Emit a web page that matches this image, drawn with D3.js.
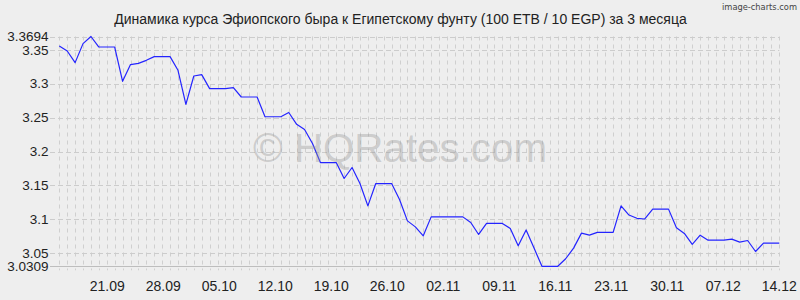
<!DOCTYPE html>
<html><head><meta charset="utf-8">
<script src="https://cdn.jsdelivr.net/npm/d3@7"></script>
<style>html,body{margin:0;padding:0;background:#eeeeee;} svg{display:block;}</style>
</head><body>
<svg id="c" width="800" height="300"></svg>
<script>
const titleText = "Динамика курса Эфиопского быра к Египетскому фунту (100 ETB / 10 EGP) за 3 месяца";
const watermarkText = "© HQRates.com";
const creditText = "image-charts.com";
const firstDate = "2024-09-15";
const lastLabelDate = "2024-12-14";
const values = [
  3.3553, 3.3480, 3.3309, 3.3589, 3.3694, 3.3539, 3.3539, 3.3539, 3.3034, 3.3280,
  3.3299, 3.3343, 3.3397, 3.3397, 3.3397, 3.3196, 3.2695, 3.3112, 3.3132, 3.2926,
  3.2926, 3.2926, 3.2941, 3.2803, 3.2803, 3.2803, 3.2512, 3.2512, 3.2512, 3.2575,
  3.2400, 3.2323, 3.2117, 3.1837, 3.1837, 3.1837, 3.1602, 3.1764, 3.1528, 3.1199,
  3.1528, 3.1528, 3.1528, 3.1293, 3.0978, 3.0890, 3.0758, 3.1037, 3.1037, 3.1037,
  3.1037, 3.1037, 3.0954, 3.0778, 3.0940, 3.0940, 3.0940, 3.0866, 3.0611, 3.0844,
  3.0577, 3.0309, 3.0309, 3.0309, 3.0420, 3.0577, 3.0798, 3.0769, 3.0808, 3.0808,
  3.0808, 3.1199, 3.1064, 3.1016, 3.1006, 3.1151, 3.1151, 3.1151, 3.0876, 3.0793,
  3.0632, 3.0767, 3.0694, 3.0694, 3.0694, 3.0709, 3.0665, 3.0689, 3.0527, 3.0650,
  3.0650, 3.0650
];
const yMin = 3.0309, yMax = 3.3694;
const yGridValues = [3.05, 3.1, 3.15, 3.2, 3.25, 3.3, 3.35];
const yTickValues = [3.0309, 3.05, 3.1, 3.15, 3.2, 3.25, 3.3, 3.35, 3.3694];
const yTickLabels = ["3.0309", "3.05", "3.1", "3.15", "3.2", "3.25", "3.3", "3.35", "3.3694"];
const xTickDates = ["2024-09-21","2024-09-28","2024-10-05","2024-10-12","2024-10-19","2024-10-26",
  "2024-11-02","2024-11-09","2024-11-16","2024-11-23","2024-11-30","2024-12-07","2024-12-14"];
const xTickLabels = ["21.09","28.09","05.10","12.10","19.10","26.10","02.11","09.11","16.11","23.11","30.11","07.12","14.12"];

const svg = d3.select("#c");
const L = 59.3, R = 779.3, T = 36.5, B = 266.3;
const font = "'Liberation Sans', Arial, sans-serif";

const x = d3.scaleLinear().domain([0, values.length - 1]).range([L, R]);
const parse = d3.timeParse("%Y-%m-%d");
const xd = d3.scaleTime().domain([parse(firstDate), parse(lastLabelDate)]).range([L, R]);
const y = d3.scaleLinear().domain([yMin, yMax]).range([B, T]);

svg.append("rect").attr("width", 800).attr("height", 300).attr("fill", "#eeeeee");

// vertical dashed gridlines
svg.append("g").selectAll("line").data(d3.range(values.length)).join("line")
  .attr("x1", i => Math.round(x(i)) + 0.5).attr("x2", i => Math.round(x(i)) + 0.5)
  .attr("y1", T).attr("y2", B + 4)
  .attr("stroke", "#cfcfcf").attr("stroke-width", 1).attr("stroke-dasharray", "4,4");

// horizontal dashed gridlines
svg.append("g").selectAll("line").data(yGridValues.concat([yMax])).join("line")
  .attr("x1", 50).attr("x2", R)
  .attr("y1", d => Math.round(y(d)) + 0.5).attr("y2", d => Math.round(y(d)) + 0.5)
  .attr("stroke", "#cccccc").attr("stroke-width", 1).attr("stroke-dasharray", "5,3");

// bottom axis line
svg.append("line").attr("x1", 50).attr("x2", R)
  .attr("y1", Math.round(B) + 0.5).attr("y2", Math.round(B) + 0.5)
  .attr("stroke", "#bdbdbd").attr("stroke-width", 1);

// data line
const line = d3.line().x((d, i) => x(i)).y(d => y(d));
svg.append("path").datum(values).attr("d", line)
  .attr("fill", "none").attr("stroke", "#2424ff").attr("stroke-width", 1.2)
  .attr("stroke-linejoin", "round");

// watermark
const wm = svg.append("text").attr("x", 400).attr("y", 161.5).attr("text-anchor", "middle")
  .attr("font-family", font).attr("font-size", 40).attr("fill", "#969696").attr("fill-opacity", 0.4)
  .text(watermarkText);
wm.attr("textLength", 294).attr("lengthAdjust", "spacingAndGlyphs");

// y labels
svg.append("g").selectAll("text").data(yTickValues).join("text")
  .attr("x", 48.5).attr("y", d => y(d)).attr("dy", "0.36em")
  .attr("text-anchor", "end").attr("font-family", font).attr("font-size", 13.5).attr("fill", "#222")
  .text((d, i) => yTickLabels[i]);

// x labels
svg.append("g").selectAll("text").data(xTickDates).join("text")
  .attr("x", d => xd(parse(d))).attr("y", 290.5)
  .attr("text-anchor", "middle").attr("font-family", font).attr("font-size", 14).attr("fill", "#222")
  .text((d, i) => xTickLabels[i]);

// title
const t = svg.append("text").attr("x", 400.5).attr("y", 24).attr("text-anchor", "middle")
  .attr("font-family", font).attr("font-size", 14).attr("fill", "#222").text(titleText);
const tw = t.node().getComputedTextLength();
t.attr("font-size", 14 * 573 / tw);

// credit
svg.append("text").attr("x", 797).attr("y", 10).attr("text-anchor", "end")
  .attr("font-family", "'DejaVu Sans Condensed', 'DejaVu Sans', sans-serif").attr("font-size", 9.5)
  .attr("fill", "#444").attr("textLength", 75).attr("lengthAdjust", "spacingAndGlyphs")
  .text(creditText);
</script>
</body></html>
